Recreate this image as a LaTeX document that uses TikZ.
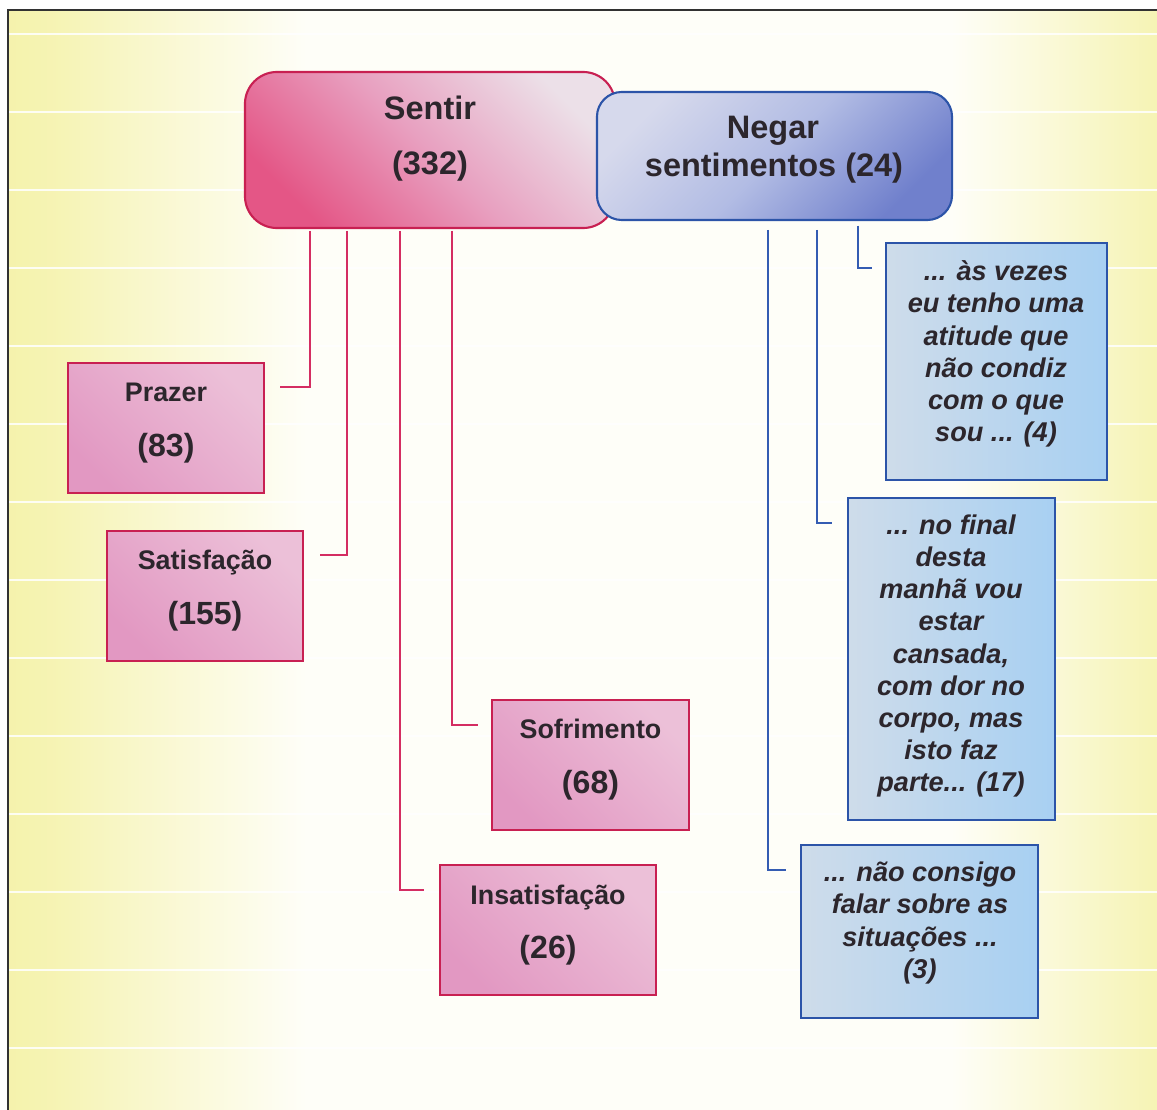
\documentclass[tikz,border=0pt]{standalone}
\usepackage{fontspec}
\setmainfont{Liberation Sans}
\usetikzlibrary{calc}

\definecolor{bgY}{RGB}{238,234,118}
\definecolor{ink}{RGB}{44,38,44}
\definecolor{rose}{RGB}{200,32,82}
\definecolor{roseline}{RGB}{212,45,98}
\definecolor{navy}{RGB}{44,84,168}
\definecolor{navyline}{RGB}{52,92,178}
\definecolor{frameink}{RGB}{50,50,50}

\pgfdeclarehorizontalshading{backdrop}{100bp}{color(0bp)=(bgY); color(14bp)=(bgY!90!white); color(27bp)=(bgY!55!white); color(38bp)=(white!95!bgY); color(66bp)=(white!95!bgY); color(76bp)=(bgY!60!white); color(88bp)=(bgY!92!white); color(100bp)=(bgY)}

\tikzset{
  every node/.style={inner sep=0pt, outer sep=0pt},
  roottext/.style={text=ink, font=\fontsize{23.1}{27}\selectfont\bfseries, text height=16.6pt, text depth=0pt},
  catname/.style={text=ink, font=\fontsize{19.1}{23}\selectfont\bfseries, text height=13.75pt, text depth=0pt},
  catnum/.style={text=ink, font=\fontsize{22.8}{27}\selectfont\bfseries, text height=16.4pt, text depth=0pt},
  quote/.style={text=ink, align=center, font=\fontsize{19.3}{22.9}\selectfont\bfseries\itshape},
  rootpink/.style={draw=rose, line width=1.5pt, rounded corners=0.8cm,
    top color={rgb,255:red,236;green,224;blue,232}, bottom color={rgb,255:red,228;green,86;blue,134},
    middle color={rgb,255:red,232;green,160;blue,192}, shading angle=-45},
  rootblue/.style={draw=navy, line width=1.5pt, rounded corners=0.62cm,
    top color={rgb,255:red,214;green,217;blue,236}, bottom color={rgb,255:red,112;green,128;blue,204},
    middle color={rgb,255:red,178;green,188;blue,228}, shading angle=45},
  catbox/.style={draw=rose, line width=1.5pt,
    top color={rgb,255:red,236;green,192;blue,216}, bottom color={rgb,255:red,226;green,152;blue,194},
    shading angle=-45},
  quotebox/.style={draw=navy, line width=1.5pt,
    left color={rgb,255:red,206;green,220;blue,234}, right color={rgb,255:red,168;green,208;blue,242}},
  pinklink/.style={draw=roseline, line width=1.3pt},
  bluelink/.style={draw=navyline, line width=1.3pt}
}

\begin{document}
\begin{tikzpicture}[x=0.025cm, y=-0.025cm]
  \useasboundingbox (0,0) rectangle (1157,1110);

  % backdrop with its ruled lines and frame
  \begin{scope}
    \clip (0,0) rectangle (1157,1110);
    \shade[shading=backdrop] (8,10) rectangle (1157,1110);
    \foreach \k in {0,...,13}
      \draw[white, line width=0.9pt, opacity=0.85] (8,34+78*\k) -- (1157,34+78*\k);
    \draw[frameink, line width=1.8pt] (8,1120) -- (8,10) -- (1170,10);
  \end{scope}

  % root nodes
  \node[rootpink, minimum width=9.25cm, minimum height=3.9cm] (sentir) at (430,150) {};
  \node[roottext] (sentirA) at (430,108) {Sentir};
  \node[roottext] (sentirB) at (430,163) {(332)};

  \node[rootblue, minimum width=8.875cm, minimum height=3.2cm] (negar) at (774.5,156) {};
  \node[roottext] (negarA) at (773,127) {Negar};
  \node[roottext] (negarB) at (774,165) {sentimentos (24)};

  % categories of feeling
  \node[catbox, minimum width=4.9cm, minimum height=3.25cm] (prazer) at (166,428) {};
  \node[catname] (prazerA) at ($(prazer.north)+(0,29)$) {Prazer};
  \node[catnum]  (prazerB) at ($(prazer.north)+(0,82)$) {(83)};

  \node[catbox, minimum width=4.9cm, minimum height=3.25cm] (satis) at (205,596) {};
  \node[catname] (satisA) at ($(satis.north)+(0,29)$) {Satisfação};
  \node[catnum]  (satisB) at ($(satis.north)+(0,82)$) {(155)};

  \node[catbox, minimum width=4.925cm, minimum height=3.25cm] (sofri) at (590.5,765) {};
  \node[catname] (sofriA) at ($(sofri.north)+(0,29)$) {Sofrimento};
  \node[catnum]  (sofriB) at ($(sofri.north)+(0,82)$) {(68)};

  \node[catbox, minimum width=5.4cm, minimum height=3.25cm] (insat) at (548,930) {};
  \node[catname] (insatA) at ($(insat.north)+(0,30)$) {Insatisfação};
  \node[catnum]  (insatB) at ($(insat.north)+(0,82)$) {(26)};

  % quotations
  \node[quotebox, minimum width=5.525cm, minimum height=5.925cm] (q1) at (996.5,361.5) {};
  \node[quote] (q1t) at (996,354) {... às vezes\\eu tenho uma\\atitude que\\não condiz\\com o que\\sou ... (4)};

  \node[quotebox, minimum width=5.175cm, minimum height=8.05cm] (q2) at (951.5,659) {};
  \node[quote] (q2t) at (951,656) {... no final\\desta\\manhã vou\\estar\\cansada,\\com dor no\\corpo, mas\\isto faz\\parte... (17)};

  \node[quotebox, minimum width=5.925cm, minimum height=4.325cm] (q3) at (919.5,931.5) {};
  \node[quote] (q3t) at (920,923) {... não consigo\\falar sobre as\\situações ...\\(3)};

  % branch positions
  \coordinate (px1) at (310,0);
  \coordinate (px2) at (347,0);
  \coordinate (px3) at (400,0);
  \coordinate (px4) at (452,0);
  \coordinate (bx1) at (768,0);
  \coordinate (bx2) at (817,0);
  \coordinate (bx3) at (858,0);

  % connectors
  \draw[pinklink] ([yshift=-2pt]sentir.south -| px1) |- ($(prazer.north east)+(16,24)$);
  \draw[pinklink] ([yshift=-2pt]sentir.south -| px2) |- ($(satis.north east)+(17,24)$);
  \draw[pinklink] ([yshift=-2pt]sentir.south -| px3) |- ($(insat.north west)+(-16,25)$);
  \draw[pinklink] ([yshift=-2pt]sentir.south -| px4) |- ($(sofri.north west)+(-14,25)$);

  \draw[bluelink] ([yshift=-7pt]negar.south -| bx1) |- ($(q3.north west)+(-15,25)$);
  \draw[bluelink] ([yshift=-7pt]negar.south -| bx2) |- ($(q2.north west)+(-16,25)$);
  \draw[bluelink] ([yshift=-4pt]negar.south -| bx3) |- ($(q1.north west)+(-14,25)$);
\end{tikzpicture}
\end{document}
